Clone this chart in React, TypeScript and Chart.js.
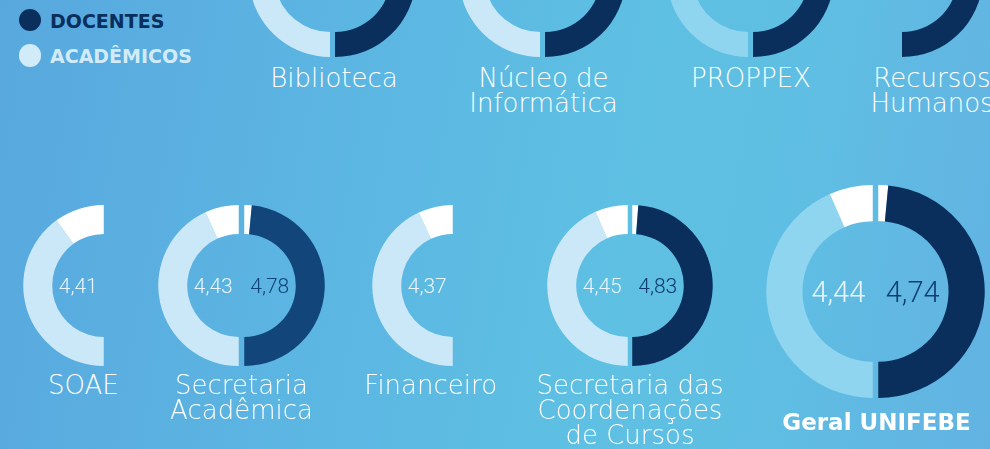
import React, { useEffect, useRef } from 'react';
import { Chart, registerables } from 'chart.js';
Chart.register(...registerables);

// ---------------- data ----------------
const ringNames = [
  'Biblioteca',
  'Núcleo de\nInformática',
  'PROPPEX',
  'Recursos\nHumanos',
  'SOAE',
  'Secretaria\nAcadêmica',
  'Financeiro',
  'Secretaria das\nCoordenações\nde Cursos',
  'Geral UNIFEBE',
];
// score shown in the middle of each ring (null = not shown / not visible)
const academicosScore: (number | null)[] = [null, null, null, null, 4.41, 4.43, 4.37, 4.45, 4.44];
const docentesScore: (number | null)[] = [null, null, null, null, null, 4.78, null, 4.83, 4.74];
// filled share of each half ring (null = half not drawn)
const academicosArc: (number | null)[] = [0.87, 0.87, 0.87, null, 0.80, 0.864, 0.861, 0.869, 0.868];
const docentesArc: (number | null)[] = [0.97, 0.97, 0.97, 0.97, null, 0.97, null, 0.976, 0.97];
const legendLabels = ['DOCENTES', 'ACADÊMICOS'];

// ---------------- layout / style ----------------
const ringLayout = [
  { cx: 332.5, cy: -24, r: 81, cutout: '69%', gap: 5, labelX: 334, labelBase: 87.3, bold: false },
  { cx: 542.5, cy: -24, r: 81, cutout: '69%', gap: 5, labelX: 543.5, labelBase: 87.3, bold: false },
  { cx: 750.5, cy: -24, r: 81, cutout: '69%', gap: 5, labelX: 751, labelBase: 87.3, bold: false },
  { cx: 899.2, cy: -24, r: 81, cutout: '69%', gap: 5, labelX: 932, labelBase: 87.3, bold: false },
  { cx: 106.5, cy: 285, r: 80.5, cutout: '64%', gap: 5, labelX: 83.3, labelBase: 394, bold: false },
  { cx: 241.7, cy: 285.5, r: 80.5, cutout: '64%', gap: 5, labelX: 241.5, labelBase: 394, bold: false },
  { cx: 454.8, cy: 285, r: 80.5, cutout: '64%', gap: 5, labelX: 430.7, labelBase: 394, bold: false },
  { cx: 629.8, cy: 285, r: 80.5, cutout: '64%', gap: 5, labelX: 630, labelBase: 394, bold: false },
  { cx: 875.3, cy: 291.5, r: 106.5, cutout: '66%', gap: 6, labelX: 876.5, labelBase: 430, bold: true },
];

const LIGHT = '#cbe8f8';
const MID = '#8fd5f0';
const DARK = '#0a2f5c';
const ringStyle = [
  { aca: LIGHT, doc: DARK, docText: DARK, valueSize: 21 },
  { aca: LIGHT, doc: DARK, docText: DARK, valueSize: 21 },
  { aca: MID, doc: DARK, docText: DARK, valueSize: 21 },
  { aca: LIGHT, doc: DARK, docText: DARK, valueSize: 21 },
  { aca: LIGHT, doc: DARK, docText: DARK, valueSize: 21 },
  { aca: LIGHT, doc: '#12457a', docText: '#12457a', valueSize: 21 },
  { aca: LIGHT, doc: DARK, docText: DARK, valueSize: 21 },
  { aca: LIGHT, doc: DARK, docText: '#0d3b6e', valueSize: 21 },
  { aca: MID, doc: DARK, docText: '#0f3e72', valueSize: 29 },
];

const fmt = (v: number) => v.toFixed(2).replace('.', ',');

type HalfProps = {
  side: 'left' | 'right';
  fill: number;
  color: string;
  r: number;
  cutout: string;
  cx: number;
  cy: number;
  gap: number;
  text: string | null;
  textColor: string;
  textSize: number;
  label: string;
};

function HalfRing(p: HalfProps) {
  const ref = useRef<HTMLCanvasElement>(null);
  const w = Math.ceil(p.r);
  const h = Math.round(p.r * 2);
  // centre of the arc inside the canvas (chart.js half-doughnut fit)
  const arcX = p.side === 'left' ? w / 2 + p.r / 2 : w / 2 - p.r / 2;
  const left = p.side === 'left' ? p.cx - p.gap / 2 - arcX : p.cx + p.gap / 2 - arcX;
  const top = p.cy - h / 2;

  useEffect(() => {
    const isLeft = p.side === 'left';
    const data = isLeft ? [p.fill, 1 - p.fill] : [1 - p.fill, p.fill];
    const colors = isLeft ? [p.color, '#ffffff'] : ['#ffffff', p.color];
    const valuePlugin = {
      id: 'centerValue',
      afterDatasetsDraw(chart: any) {
        if (!p.text) return;
        const arc = chart.getDatasetMeta(0).data[0];
        const ctx = chart.ctx as CanvasRenderingContext2D;
        ctx.save();
        ctx.font = `300 ${p.textSize}px Roboto`;
        ctx.fillStyle = p.textColor;
        ctx.textAlign = isLeft ? 'right' : 'left';
        ctx.textBaseline = 'alphabetic';
        const pad = p.textSize > 24 ? 7.5 : 6;
        ctx.fillText(p.text, arc.x + (isLeft ? -pad : pad), arc.y + p.textSize * 0.355);
        ctx.restore();
      },
    };
    const chart = new Chart(ref.current as HTMLCanvasElement, {
      type: 'doughnut',
      data: {
        labels: isLeft ? [p.label + ' – Acadêmicos', ''] : ['', p.label + ' – Docentes'],
        datasets: [{ data, backgroundColor: colors, borderWidth: 0, hoverOffset: 0 }],
      },
      options: {
        animation: false,
        responsive: false,
        maintainAspectRatio: false,
        rotation: isLeft ? 180 : 0,
        circumference: 180,
        cutout: p.cutout,
        layout: { padding: 0 },
        events: [],
        plugins: { legend: { display: false }, tooltip: { enabled: false } },
      },
      plugins: [valuePlugin],
    });
    return () => chart.destroy();
  }, []);

  return (
    <canvas
      ref={ref}
      width={w}
      height={h}
      style={{ position: 'absolute', left, top, width: w, height: h }}
    />
  );
}

const LABEL_FONT = 26;
const LABEL_LH = 25;

export default function App() {
  return (
    <div
      style={{
        position: 'fixed',
        left: 0,
        top: 0,
        width: 990,
        height: 449,
        overflow: 'hidden',
        background:
          'linear-gradient(100deg, #58a8de 0%, #5cb6e2 35%, #5ec0e3 62%, #5fbfe3 75%, #62b3e2 100%)',
      }}
    >
      {/* legend */}
      {legendLabels.map((t, i) => (
        <React.Fragment key={t}>
          <div
            style={{
              position: 'absolute',
              left: 18.5,
              top: (i === 0 ? 20 : 55.5) - 11.3,
              width: 22.6,
              height: 22.6,
              borderRadius: '50%',
              background: i === 0 ? DARK : '#d2ebf9',
            }}
          />
          <div
            style={{
              position: 'absolute',
              left: 50,
              top: (i === 0 ? 27.5 : 62.5) - 18,
              height: 22,
              lineHeight: '22px',
              fontFamily: '"DejaVu Sans", sans-serif',
              fontWeight: 700,
              fontSize: 19,
              color: i === 0 ? DARK : '#d2ebf9',
              whiteSpace: 'nowrap',
            }}
          >
            {t}
          </div>
        </React.Fragment>
      ))}

      {/* rings */}
      {ringNames.map((name, i) => {
        const L = ringLayout[i];
        const S = ringStyle[i];
        const a = academicosArc[i];
        const d = docentesArc[i];
        const as = academicosScore[i];
        const ds = docentesScore[i];
        return (
          <React.Fragment key={name}>
            {a !== null && (
              <HalfRing
                side="left"
                fill={a}
                color={S.aca}
                r={L.r}
                cutout={L.cutout}
                cx={L.cx}
                cy={L.cy}
                gap={L.gap}
                text={as !== null ? fmt(as) : null}
                textColor="#e8f5fd"
                textSize={S.valueSize}
                label={name}
              />
            )}
            {d !== null && (
              <HalfRing
                side="right"
                fill={d}
                color={S.doc}
                r={L.r}
                cutout={L.cutout}
                cx={L.cx}
                cy={L.cy}
                gap={L.gap}
                text={ds !== null ? fmt(ds) : null}
                textColor={S.docText}
                textSize={S.valueSize}
                label={name}
              />
            )}
          </React.Fragment>
        );
      })}

      {/* ring labels */}
      {ringNames.map((name, i) => {
        const L = ringLayout[i];
        const fs = L.bold ? 23 : LABEL_FONT;
        const baseOff = LABEL_LH / 2 + ((0.928 - 0.236) / 2) * fs;
        return (
          <div
            key={'lbl' + i}
            style={{
              position: 'absolute',
              left: L.labelX - 150,
              width: 300,
              top: L.labelBase - baseOff,
              textAlign: 'center',
              fontFamily: '"DejaVu Sans", sans-serif',
              fontWeight: L.bold ? 700 : 200,
              fontSize: fs,
              lineHeight: LABEL_LH + 'px',
              color: '#ffffff',
              whiteSpace: 'pre',
            }}
          >
            {name}
          </div>
        );
      })}
    </div>
  );
}
